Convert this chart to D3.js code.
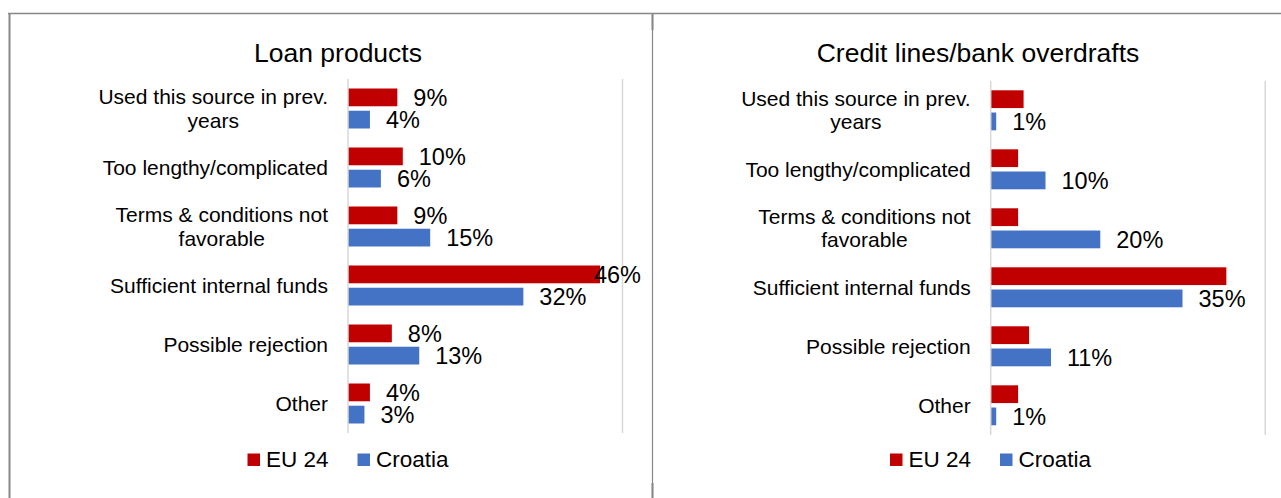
<!DOCTYPE html>
<html>
<head>
<meta charset="utf-8">
<script src="https://cdn.jsdelivr.net/npm/d3@7"></script>
<style>
  html, body { margin: 0; padding: 0; background: #fff; }
  svg { display: block; font-family: Arial, "Liberation Sans", sans-serif; }
</style>
</head>
<body>
<svg id="chart" width="1281" height="498"></svg>
<script>
// ---- data ----
const categories = [
  "Used this source in prev. years",
  "Too lengthy/complicated",
  "Terms & conditions not favorable",
  "Sufficient internal funds",
  "Possible rejection",
  "Other"
];
const seriesNames = ["EU 24", "Croatia"];
const seriesColors = ["#C00000", "#4472C4"];

const loanTitle = "Loan products";
const loanEU = [9, 10, 9, 46, 8, 4];
const loanCroatia = [4, 6, 15, 32, 13, 3];

const creditTitle = "Credit lines/bank overdrafts";
const creditEU = [6, 5, 5, 43, 7, 5];
const creditCroatia = [1, 10, 20, 35, 11, 1];

const xDomainMax = 50;

// ---- drawing ----
const svg = d3.select("#chart");

// frame lines
const frame = svg.append("g").attr("stroke", "#878787").attr("fill", "none");
frame.append("line").attr("x1", 8).attr("x2", 1281).attr("y1", 13.5).attr("y2", 13.5).attr("stroke-width", 1.5);
frame.append("line").attr("x1", 9.5).attr("x2", 9.5).attr("y1", 13).attr("y2", 498).attr("stroke-width", 2);
frame.append("line").attr("x1", 652.5).attr("x2", 652.5).attr("y1", 13).attr("y2", 498).attr("stroke-width", 1.2);
frame.append("line").attr("x1", 652.5).attr("x2", 652.5).attr("y1", 13).attr("y2", 30).attr("stroke-width", 2);
frame.append("line").attr("x1", 652.5).attr("x2", 652.5).attr("y1", 483).attr("y2", 498).attr("stroke-width", 2);

// wrap a right-aligned label; multi-line blocks are centred line by line
function wrapText(textSel, width, lineHeight, fontPx) {
  textSel.each(function () {
    const text = d3.select(this);
    const words = text.text().split(/\s+/);
    const xRight = +text.attr("x");
    text.text(null);
    let lines = [];
    let line = [];
    const probe = text.append("tspan");
    words.forEach(w => {
      line.push(w);
      probe.text(line.join(" "));
      if (probe.node().getComputedTextLength() > width && line.length > 1) {
        line.pop();
        lines.push(line.join(" "));
        line = [w];
      }
    });
    lines.push(line.join(" "));
    // measure widths
    const widths = lines.map(l => { probe.text(l); return probe.node().getComputedTextLength(); });
    probe.remove();
    const n = lines.length;
    if (n === 1) {
      text.attr("text-anchor", "end");
      text.append("tspan").attr("x", xRight).attr("dy", (0.35 * fontPx) + "px").text(lines[0]);
    } else {
      const maxW = d3.max(widths);
      const cx = xRight - maxW / 2;
      text.attr("text-anchor", "middle");
      lines.forEach((l, i) => {
        text.append("tspan")
          .attr("x", cx)
          .attr("dy", i === 0 ? ((-(n - 1) / 2) * lineHeight + 0.35 * fontPx) + "px" : lineHeight + "px")
          .text(l);
      });
    }
  });
}

function drawPanel(opts) {
  const { dx, dy, title, titleX, eu, cro, showEULabels, legendX } = opts;
  const g = svg.append("g");
  const left = 348 + dx, right = 622 + dx;
  const top = 79 + dy, bottom = 433 + dy;

  const x = d3.scaleLinear().domain([0, xDomainMax]).range([left, right]);
  const y0 = d3.scaleBand().domain(categories).range([top, bottom])
    .paddingInner(0.322).paddingOuter(0.161);
  const y1 = d3.scaleBand().domain(seriesNames).range([0, y0.bandwidth()]).paddingInner(0.2);

  // title
  g.append("text")
    .attr("x", titleX).attr("y", 61.5)
    .attr("text-anchor", "middle")
    .attr("font-size", "26.5px").attr("fill", "#000")
    .text(title);

  // right gridline
  g.append("line").attr("x1", right + 0.5).attr("x2", right + 0.5)
    .attr("y1", top).attr("y2", bottom).attr("stroke", "#d9d9d9").attr("stroke-width", 1.5);

  const rows = categories.map((c, i) => ({ cat: c, vals: [eu[i], cro[i]] }));

  const groups = g.selectAll("g.row").data(rows).join("g")
    .attr("class", "row")
    .attr("transform", d => `translate(0,${y0(d.cat)})`);

  groups.selectAll("rect").data(d => d.vals.map((v, j) => ({ v, s: seriesNames[j], j })))
    .join("rect")
    .attr("x", x(0))
    .attr("y", d => y1(d.s))
    .attr("width", d => x(d.v) - x(0))
    .attr("height", y1.bandwidth())
    .attr("fill", d => seriesColors[d.j]);

  // data labels
  const chartRight = 641 + dx;
  groups.selectAll("text.val").data(d => d.vals.map((v, j) => ({ v, s: seriesNames[j], j }))
      .filter(d => d.j === 1 || showEULabels))
    .join("text")
    .attr("class", "val")
    .attr("font-size", "23.5px").attr("fill", "#000")
    .attr("y", d => y1(d.s) + y1.bandwidth() / 2)
    .attr("dy", "0.36em")
    .text(d => d.v + "%")
    .attr("x", function (d) {
      const w = this.getComputedTextLength();
      let px = x(d.v) + 16;
      if (px + w > chartRight) px = chartRight - w;
      return px;
    });

  // axis line (left)
  g.append("line").attr("x1", left).attr("x2", left)
    .attr("y1", top).attr("y2", bottom).attr("stroke", "#d9d9d9").attr("stroke-width", 1.5);

  // category labels
  g.selectAll("text.cat").data(categories).join("text")
    .attr("class", "cat")
    .attr("x", left - 20)
    .attr("y", d => y0(d) + y0.bandwidth() / 2)
    .attr("font-size", "21px").attr("fill", "#000")
    .text(d => d)
    .call(wrapText, 238, 23.4, 21);

  // legend
  const lg = g.append("g").attr("transform", `translate(${legendX},0)`);
  const legendOffsets = [0, 110];
  seriesNames.forEach((s, j) => {
    lg.append("rect").attr("x", legendOffsets[j]).attr("y", 453.5)
      .attr("width", 12.5).attr("height", 12.5).attr("fill", seriesColors[j]);
    lg.append("text").attr("x", legendOffsets[j] + 18.5).attr("y", 467.3)
      .attr("font-size", "22.5px").attr("fill", "#000").text(s);
  });
}

drawPanel({ dx: 0, dy: 0, title: loanTitle, titleX: 338, eu: loanEU, cro: loanCroatia, showEULabels: true, legendX: 247.5 });
drawPanel({ dx: 642.7, dy: 1.8, title: creditTitle, titleX: 978, eu: creditEU, cro: creditCroatia, showEULabels: false, legendX: 890 });
</script>
</body>
</html>
